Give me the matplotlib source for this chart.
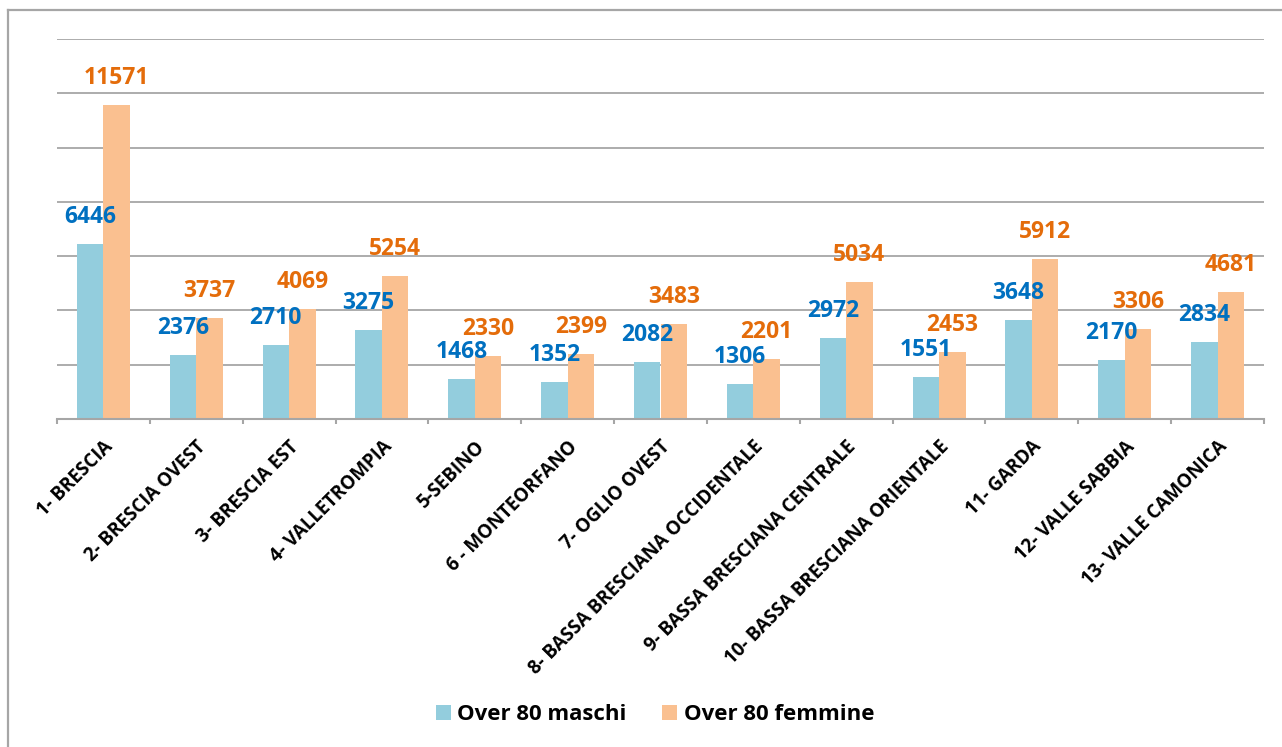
import matplotlib
matplotlib.use("Agg")
import matplotlib.pyplot as plt
import numpy as np
from matplotlib.lines import Line2D
from matplotlib.transforms import ScaledTranslation

categories = ["1- BRESCIA", "2- BRESCIA OVEST", "3- BRESCIA EST", "4- VALLETROMPIA",
              "5-SEBINO", "6 - MONTEORFANO", "7- OGLIO OVEST",
              "8- BASSA BRESCIANA OCCIDENTALE", "9- BASSA BRESCIANA CENTRALE",
              "10- BASSA BRESCIANA ORIENTALE", "11- GARDA", "12- VALLE SABBIA",
              "13- VALLE CAMONICA"]
maschi = [6446, 2376, 2710, 3275, 1468, 1352, 2082, 1306, 2972, 1551, 3648, 2170, 2834]
femmine = [11571, 3737, 4069, 5254, 2330, 2399, 3483, 2201, 5034, 2453, 5912, 3306, 4681]
series_names = ["Over 80 maschi", "Over 80 femmine"]

W, H = 1282, 747
fig = plt.figure(figsize=(W / 100, H / 100), dpi=100)
plt.rcParams['font.family'] = ['Open Sans', 'DejaVu Sans']

ax = fig.add_axes([57 / W, 1 - 419 / H, (1264 - 57) / W, (419 - 39) / H])

x = np.arange(len(categories))
bw = 1 / 3.5
c_blue, c_orange = "#93CDDD", "#FAC090"
b1 = ax.bar(x - bw / 2, maschi, bw, color=c_blue, label=series_names[0], zorder=3)
b2 = ax.bar(x + bw / 2, femmine, bw, color=c_orange, label=series_names[1], zorder=3)

for xi, v in zip(x, maschi):
    ax.annotate(str(v), (xi - bw / 2, v), xytext=(0, 27 * 0.72), textcoords="offset points",
                ha="center", va="center", fontsize=16.5, fontweight="bold", color="#0070C0", zorder=5)
for xi, v in zip(x, femmine):
    ax.annotate(str(v), (xi + bw / 2, v), xytext=(0, 27 * 0.72), textcoords="offset points",
                ha="center", va="center", fontsize=16.5, fontweight="bold", color="#E46C0A", zorder=5)

ax.set_xlim(-0.5, len(categories) - 0.5)
ax.set_ylim(0, 14000)
ax.set_yticks(np.arange(0, 14001, 2000))
ax.yaxis.grid(True, color="#A6A6A6", linewidth=1.3, zorder=0)
ax.set_axisbelow(True)
ax.tick_params(axis="y", left=False, labelleft=False)

for s in ["top", "right", "left"]:
    ax.spines[s].set_visible(False)
ax.spines["bottom"].set_color("#A6A6A6")
ax.spines["bottom"].set_linewidth(1.5)
ax.spines["bottom"].set_zorder(4)

ax.set_xticks(x)
ax.set_xticklabels(categories, rotation=45, ha="right", va="center",
                   rotation_mode="anchor", fontsize=13.5, fontweight="bold")
ax.tick_params(axis="x", which="major", length=0, pad=25 * 0.72)
ax.set_xticks(np.arange(-0.5, len(categories)), minor=True)
ax.tick_params(axis="x", which="minor", length=5 * 0.72, width=1.5, color="#A6A6A6", direction="out")
off = ScaledTranslation(7 / 100, 0, fig.dpi_scale_trans)
for lab in ax.get_xticklabels():
    lab.set_transform(lab.get_transform() + off)

leg = fig.legend(handles=[b1, b2], labels=series_names, loc="center",
                 bbox_to_anchor=(655 / W, 1 - 715 / H), ncol=2, frameon=False,
                 prop={"size": 16, "weight": "bold"}, handlelength=0.68, handleheight=0.68,
                 handletextpad=0.3, columnspacing=1.6)

# chart frame
fig.add_artist(Line2D([8 / W, 8 / W], [0, 1 - 10 / H], color="#A6A6A6", linewidth=1.6,
                      transform=fig.transFigure))
fig.add_artist(Line2D([8 / W, 1], [1 - 10 / H, 1 - 10 / H], color="#A6A6A6", linewidth=1.6,
                      transform=fig.transFigure))

fig.savefig("out.png", dpi=100, facecolor="white")
